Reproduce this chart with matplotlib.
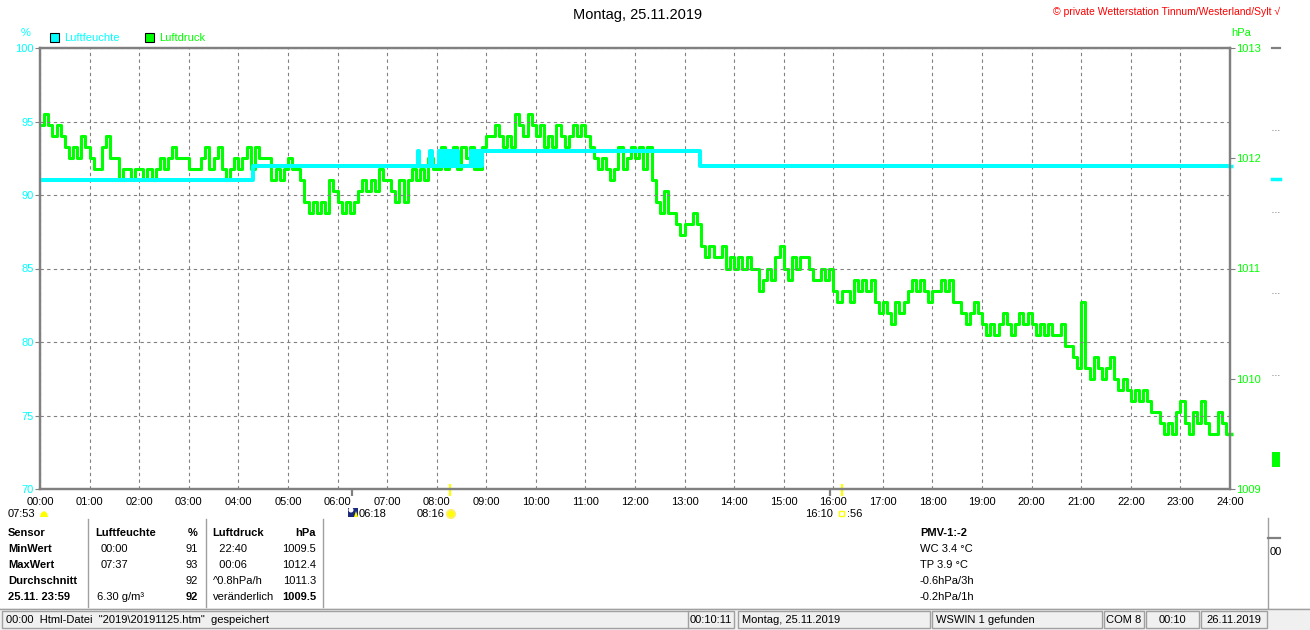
import matplotlib
matplotlib.use('Agg')
import matplotlib.pyplot as plt
from matplotlib.patches import Rectangle, Ellipse, Polygon
from matplotlib.lines import Line2D

# Luftdruck (hPa), one row per hour, readings every 5 minutes
p00 = [1012.3, 1012.4, 1012.3, 1012.2, 1012.3, 1012.2, 1012.1, 1012.0, 1012.1, 1012.0, 1012.2, 1012.1]
p01 = [1012.0, 1011.9, 1011.9, 1012.1, 1012.2, 1012.0, 1012.0, 1011.8, 1011.9, 1011.9, 1011.8, 1011.9]
p02 = [1011.9, 1011.8, 1011.9, 1011.8, 1011.9, 1012.0, 1011.9, 1012.0, 1012.1, 1012.0, 1012.0, 1012.0]
p03 = [1011.9, 1011.9, 1011.9, 1012.0, 1012.1, 1011.9, 1012.0, 1012.1, 1011.9, 1011.8, 1011.9, 1012.0]
p04 = [1011.9, 1012.0, 1012.1, 1011.9, 1012.1, 1012.0, 1012.0, 1012.0, 1011.8, 1011.9, 1011.8, 1011.9]
p05 = [1012.0, 1011.9, 1011.9, 1011.8, 1011.6, 1011.5, 1011.6, 1011.5, 1011.6, 1011.5, 1011.8, 1011.7]
p06 = [1011.6, 1011.5, 1011.6, 1011.5, 1011.6, 1011.7, 1011.8, 1011.7, 1011.8, 1011.7, 1011.9, 1011.8]
p07 = [1011.8, 1011.7, 1011.6, 1011.8, 1011.6, 1011.8, 1011.9, 1011.8, 1011.9, 1011.8, 1012.0, 1011.9]
p08 = [1011.9, 1012.1, 1011.9, 1012.0, 1012.1, 1011.9, 1012.1, 1012.0, 1012.1, 1011.9, 1011.9, 1012.1]
p09 = [1012.2, 1012.2, 1012.3, 1012.2, 1012.1, 1012.2, 1012.1, 1012.4, 1012.3, 1012.2, 1012.4, 1012.3]
p10 = [1012.2, 1012.3, 1012.1, 1012.2, 1012.1, 1012.3, 1012.2, 1012.1, 1012.2, 1012.3, 1012.2, 1012.3]
p11 = [1012.2, 1012.1, 1012.0, 1011.9, 1012.0, 1011.9, 1011.8, 1011.9, 1012.1, 1011.9, 1012.0, 1012.1]
p12 = [1012.0, 1012.1, 1011.9, 1012.1, 1011.8, 1011.6, 1011.5, 1011.7, 1011.5, 1011.5, 1011.4, 1011.3]
p13 = [1011.4, 1011.4, 1011.5, 1011.4, 1011.2, 1011.1, 1011.2, 1011.1, 1011.1, 1011.2, 1011.0, 1011.1]
p14 = [1011.0, 1011.1, 1011.0, 1011.1, 1011.0, 1011.0, 1010.8, 1010.9, 1011.0, 1010.9, 1011.1, 1011.2]
p15 = [1011.0, 1010.9, 1011.1, 1011.0, 1011.1, 1011.1, 1011.0, 1010.9, 1010.9, 1011.0, 1010.9, 1011.0]
p16 = [1010.8, 1010.7, 1010.8, 1010.8, 1010.7, 1010.9, 1010.8, 1010.9, 1010.8, 1010.9, 1010.7, 1010.6]
p17 = [1010.7, 1010.6, 1010.5, 1010.7, 1010.6, 1010.7, 1010.8, 1010.9, 1010.8, 1010.9, 1010.8, 1010.7]
p18 = [1010.8, 1010.8, 1010.9, 1010.8, 1010.9, 1010.7, 1010.7, 1010.6, 1010.5, 1010.6, 1010.7, 1010.6]
p19 = [1010.5, 1010.4, 1010.5, 1010.4, 1010.5, 1010.6, 1010.5, 1010.4, 1010.5, 1010.6, 1010.5, 1010.6]
p20 = [1010.5, 1010.4, 1010.5, 1010.4, 1010.5, 1010.4, 1010.4, 1010.5, 1010.3, 1010.3, 1010.2, 1010.1]
p21 = [1010.7, 1010.1, 1010.0, 1010.2, 1010.1, 1010.0, 1010.1, 1010.2, 1010.0, 1009.9, 1010.0, 1009.9]
p22 = [1009.8, 1009.9, 1009.8, 1009.9, 1009.8, 1009.7, 1009.7, 1009.6, 1009.5, 1009.6, 1009.5, 1009.7]
p23 = [1009.8, 1009.6, 1009.5, 1009.7, 1009.6, 1009.8, 1009.6, 1009.5, 1009.5, 1009.7, 1009.6, 1009.5]
p_last = 1009.5
pressure_rows = [p00, p01, p02, p03, p04, p05, p06, p07, p08, p09, p10, p11,
                 p12, p13, p14, p15, p16, p17, p18, p19, p20, p21, p22, p23]

# Luftfeuchte (%), step changes
hum_hours = [0.0, 4.3, 7.62, 7.65, 7.87, 7.9, 8.05, 8.09, 8.12, 8.16, 8.19, 8.23, 8.26, 8.3,
             8.33, 8.37, 8.4, 8.44, 8.7, 8.74, 8.77, 8.81, 8.84, 8.88, 8.91, 8.95, 13.32, 24.0]
hum_vals = [91, 92, 93, 92, 93, 92, 93, 92, 93, 92, 93, 92, 93, 92,
            93, 92, 93, 92, 93, 92, 93, 92, 93, 92, 93, 93, 92, 92]

hour_labels = ['%02d:00' % h for h in range(25)]
hum_ticks = [70, 75, 80, 85, 90, 95, 100]
p_ticks = [1009, 1010, 1011, 1012, 1013]

# sun / moon events (hours)
grey_events = [6.3, 15.933]
yellow_events = [8.267, 16.167]

CYAN = '#00ffff'
GREEN = '#00ff00'
GREY = '#808080'

W, H = 1310, 630
plt.rcParams['font.family'] = ['Liberation Sans', 'DejaVu Sans']
plt.rcParams['font.size'] = 8

fig = plt.figure(figsize=(W / 100, H / 100), dpi=100)


def fx(x):
    return x / W


def fy(y):
    return 1 - y / H


def txt(x, y, s, **kw):
    kw.setdefault('va', 'center')
    fig.text(fx(x), fy(y), s, **kw)


def box(x0, y0, x1, y1, **kw):
    fig.add_artist(Rectangle((fx(x0), fy(y1)), (x1 - x0) / W, (y1 - y0) / H,
                             transform=fig.transFigure, **kw))


def dot(x, y, d, **kw):
    fig.add_artist(Ellipse((fx(x), fy(y)), d / W, d / H, transform=fig.transFigure, **kw))


def hline(x0, x1, y, **kw):
    fig.add_artist(Line2D([fx(x0), fx(x1)], [fy(y), fy(y)], transform=fig.transFigure, **kw))


def vline(x, y0, y1, **kw):
    fig.add_artist(Line2D([fx(x), fx(x)], [fy(y0), fy(y1)], transform=fig.transFigure, **kw))


# build pressure series
p_hours = []
p_vals = []
for h, row in enumerate(pressure_rows):
    for i, v in enumerate(row):
        p_hours.append(h + i * 5 / 60)
        p_vals.append(v)
p_hours.append(24.0)
p_vals.append(p_last)

ax_p = fig.add_axes([fx(40), fy(489), (1230 - 40) / W, (489 - 48) / H])
ax_h = ax_p.twinx()

ax_p.plot(p_hours, p_vals, drawstyle='steps-post', color=GREEN, lw=2.2)
ax_h.plot(hum_hours, hum_vals, drawstyle='steps-post', color=CYAN, lw=2.9)

# current values marked on the right edge
ax_h.plot([24], [hum_vals[-1]], marker='_', ms=5, mew=2.5, color=CYAN, clip_on=False)
ax_p.plot([24], [p_vals[-1]], marker='_', ms=5, mew=2.5, color=GREEN, clip_on=False)

ax_p.set_xlim(0, 24)
ax_p.set_ylim(1009, 1013)
ax_h.set_ylim(70, 100)

ax_p.set_xticks(range(25))
ax_p.set_xticklabels(hour_labels)
ax_p.tick_params(axis='x', length=0, pad=6, labelsize=8, colors='black')

ax_h.yaxis.tick_left()
ax_p.yaxis.tick_right()
ax_h.set_yticks(hum_ticks)
ax_h.set_yticklabels([str(v) for v in hum_ticks])
ax_h.tick_params(axis='y', length=3.6, width=0.8, color=GREY, labelcolor=CYAN, pad=1, labelsize=8)
ax_p.set_yticks(p_ticks)
ax_p.set_yticklabels([str(v) for v in p_ticks])
ax_p.tick_params(axis='y', length=3.6, width=0.8, color=GREY, labelcolor=GREEN, pad=1, labelsize=8)

ax_p.grid(True, axis='x', color=GREY, lw=0.8, ls=(0, (3, 3)))
ax_h.grid(True, axis='y', color=GREY, lw=0.8, ls=(0, (3, 3)))

for a in (ax_p, ax_h):
    for s in a.spines.values():
        s.set_color(GREY)
        s.set_linewidth(1.6)

# event markers under the time axis
ax_p.vlines(grey_events, -0.017, 0.0, transform=ax_p.get_xaxis_transform(),
            color=GREY, lw=1.6, clip_on=False)
ax_p.vlines(yellow_events, -0.017, 0.012, transform=ax_p.get_xaxis_transform(),
            color='#ffff00', lw=1.6, clip_on=False)

# header
txt(638, 15, 'Montag, 25.11.2019', ha='center', fontsize=10.5)
txt(1280, 12, '\u00a9 private Wetterstation Tinnum/Westerland/Sylt \u221a', ha='right',
    color='red', fontsize=7.5)
txt(26, 33, '%', ha='center', color=CYAN)
txt(1231, 33, 'hPa', color=GREEN)
box(50, 33, 59, 42, facecolor=CYAN, edgecolor='black', lw=0.8)
txt(64, 38, 'Luftfeuchte', color=CYAN)
box(145, 33, 154, 42, facecolor=GREEN, edgecolor='black', lw=0.8)
txt(159, 38, 'Luftdruck', color=GREEN)

# right mini scale
hline(1272, 1280, 48, color=GREY, lw=1.6)
for yy in (130, 212, 293, 375):
    hline(1272, 1280, yy, color=GREY, lw=0.7, ls=(0, (1, 2)))
hline(1272, 1280, 179, color=CYAN, lw=2.5)
box(1272, 452, 1280, 467, facecolor=GREEN, edgecolor='none')

# sun / moon rows under the axis
txt(8, 514, '07:53')
fig.add_artist(Polygon([(fx(40), fy(517)), (fx(41), fy(513)), (fx(44), fy(511)),
                        (fx(47), fy(513)), (fx(48), fy(517))],
                       transform=fig.transFigure, facecolor='#ffff00', edgecolor='none'))
box(348, 508, 358, 517, facecolor='#1c2a7a', edgecolor='none')
dot(351, 510, 5, facecolor='white', edgecolor='none')
fig.add_artist(Polygon([(fx(354), fy(517)), (fx(356), fy(511)), (fx(358), fy(517))],
                       transform=fig.transFigure, facecolor='#ffff00', edgecolor='none'))
txt(359, 514, '06:18')
txt(417, 514, '08:16')
dot(451, 514, 8, facecolor='#ffff00', edgecolor='#ffee66', lw=1.5)
txt(805, 514, '16:10')
box(839, 511, 844, 516, facecolor='none', edgecolor='#ffff00', lw=1)
txt(847, 514, ':56')

# statistics table
rows_y = [533, 549, 565, 581, 597]
col0 = ['Sensor', 'MinWert', 'MaxWert', 'Durchschnitt', '25.11. 23:59']
for yy, s in zip(rows_y, col0):
    txt(8, yy, s, fontweight='bold')

txt(95, rows_y[0], 'Luftfeuchte', fontweight='bold')
txt(198, rows_y[0], '%', ha='right', fontweight='bold')
hum_time = ['00:00', '07:37', '', '6.30 g/m\u00b3']
hum_num = ['91', '93', '92', '92']
for i, (t, n) in enumerate(zip(hum_time, hum_num)):
    txt(101 if i < 3 else 97, rows_y[i + 1], t)
    txt(198, rows_y[i + 1], n, ha='right', fontweight='bold' if i == 3 else 'normal')

txt(212, rows_y[0], 'Luftdruck', fontweight='bold')
txt(316, rows_y[0], 'hPa', ha='right', fontweight='bold')
p_time = ['  22:40', '  00:06', '^0.8hPa/h', 'ver\u00e4nderlich']
p_num = ['1009.5', '1012.4', '1011.3', '1009.5']
for i, (t, n) in enumerate(zip(p_time, p_num)):
    txt(213, rows_y[i + 1], t)
    txt(316, rows_y[i + 1], n, ha='right', fontweight='bold' if i == 3 else 'normal')

for xx in (88, 206, 323):
    vline(xx, 519, 607, color='#a0a0a0', lw=1)

pmv = ['PMV-1:-2', 'WC 3.4 \u00b0C', 'TP 3.9 \u00b0C', '-0.6hPa/3h', '-0.2hPa/1h']
for i, (yy, s) in enumerate(zip(rows_y, pmv)):
    txt(920, yy, s, fontweight='bold' if i == 0 else 'normal')

vline(1268, 518, 608, color='#a0a0a0', lw=1)
hline(1268, 1280, 538, color=GREY, lw=1.6)
txt(1270, 552, '00')

# status bar
box(0, 608, 1310, 630, facecolor='#f0f0f0', edgecolor='none')
hline(0, 1310, 608.5, color='#a0a0a0', lw=1)
panels = [(2, 734, '00:00  Html-Datei  "2019\\20191125.htm"  gespeichert', 'left'),
          (738, 930, 'Montag, 25.11.2019', 'left'),
          (932, 1102, 'WSWIN 1 gefunden', 'left'),
          (1104, 1144, 'COM 8', 'center'),
          (1146, 1199, '00:10', 'center'),
          (1201, 1267, '26.11.2019', 'center')]
for x0, x1, s, ha in panels:
    box(x0, 611, x1, 628, facecolor='#f0f0f0', edgecolor='#a0a0a0', lw=1)
    if ha == 'left':
        txt(x0 + 4, 620, s)
    else:
        txt((x0 + x1) / 2, 620, s, ha='center')
txt(732, 620, '00:10:11', ha='right')
vline(688, 611, 628, color='#a0a0a0', lw=1)

fig.savefig('out.png', dpi=100, facecolor='white')
